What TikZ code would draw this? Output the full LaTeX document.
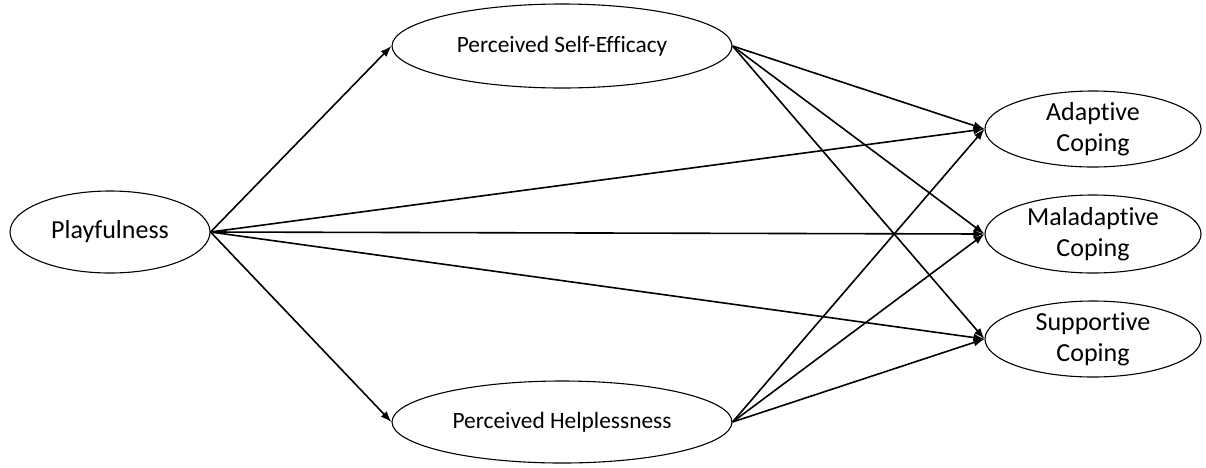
\documentclass[tikz,border=0pt]{standalone}
\usepackage{fontspec}
\setmainfont[Ligatures={NoCommon}]{Carlito}
\usetikzlibrary{shapes.geometric,arrows.meta}
\begin{document}
\begin{tikzpicture}[x=1pt,y=-1pt,
  oval/.style={draw,ellipse,line width=1.1pt,inner sep=0pt},
  lbl/.style={align=center,font=\fontsize{26}{31}\selectfont},
  lblm/.style={align=center,font=\fontsize{23.4}{28}\selectfont},
  conn/.style={line width=1.6pt,-{Latex[length=11pt,width=8pt]}}]
\useasboundingbox (0,0) rectangle (1206,467);
\node[oval,minimum width=200pt,minimum height=82pt] (pl) at (110,232) {};
\node[oval,minimum width=340pt,minimum height=84pt] (se) at (562,46) {};
\node[oval,minimum width=340pt,minimum height=82pt] (hl) at (562,422) {};
\node[oval,minimum width=216pt,minimum height=76pt] (ac) at (1093,129) {};
\node[oval,minimum width=216pt,minimum height=78pt] (mc) at (1093,234) {};
\node[oval,minimum width=216pt,minimum height=76pt] (sc) at (1093,339) {};
\node[lbl] (plt) at (pl) {Playfulness};
\node[lblm] (set) at (se) {Perceived Self-Efficacy};
\node[lblm] (hlt) at (hl) {Perceived Helplessness};
\node[lbl] (act) at (ac) {Adaptive\\Coping};
\node[lbl] (mct) at (mc) {Maladaptive\\Coping};
\node[lbl] (sct) at (sc) {Supportive\\Coping};
\draw[conn] (pl.east) -- (se.west);
\draw[conn] (pl.east) -- (hl.west);
\draw[conn] (pl.east) -- (ac.west);
\draw[conn] (pl.east) -- (mc.west);
\draw[conn] (pl.east) -- (sc.west);
\draw[conn] (se.east) -- (ac.west);
\draw[conn] (se.east) -- (mc.west);
\draw[conn] (se.east) -- (sc.west);
\draw[conn] (hl.east) -- (ac.west);
\draw[conn] (hl.east) -- (mc.west);
\draw[conn] (hl.east) -- (sc.west);
\end{tikzpicture}
\end{document}
